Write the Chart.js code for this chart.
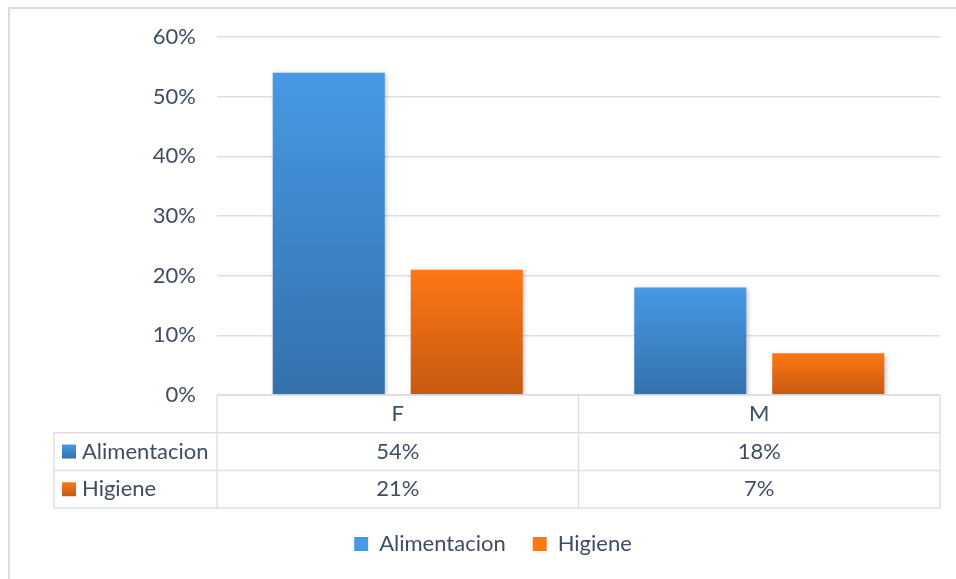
<!DOCTYPE html>
<html>
<head>
<meta charset="utf-8">
<script src="https://cdn.jsdelivr.net/npm/chart.js@4.4.1/dist/chart.umd.min.js"></script>
<style>
  html, body { margin: 0; padding: 0; background: #ffffff; }
  #wrap { position: relative; width: 956px; height: 579px; }
  canvas { display: block; }
</style>
</head>
<body>
<div id="wrap"><canvas id="chart" width="956" height="579"></canvas></div>
<script>
// Categories, series and tick labels
const categories = ['F', 'M'];
const seriesNames = ['Alimentacion', 'Higiene'];
const alimentacion = [0.54, 0.18];
const higiene = [0.21, 0.07];
const yTickLabels = ['0%', '10%', '20%', '30%', '40%', '50%', '60%'];

// Styling
const FONT = 'Lato, "Open Sans", sans-serif';
const TEXT = '#3F4D62';
const LINE = '#DCE0E6';
const GRADS = [
  { top: '#4699E4', bottom: '#3471AD' },
  { top: '#FF7614', bottom: '#C65A10' }
];

function barGradient(ctx, top, bottom, stops) {
  const g = ctx.createLinearGradient(0, top, 0, bottom);
  g.addColorStop(0, stops.top);
  g.addColorStop(1, stops.bottom);
  return g;
}

function barFill(seriesIndex) {
  return (context) => {
    const chart = context.chart;
    const y = chart.scales && chart.scales.y;
    if (!y || context.parsed == null || context.type !== 'data') {
      return GRADS[seriesIndex].top;
    }
    const top = y.getPixelForValue(context.parsed.y);
    const base = y.getPixelForValue(0);
    return barGradient(chart.ctx, top, base, GRADS[seriesIndex]);
  };
}

function pct(v) { return Math.round(v * 100) + '%'; }

// Outer frame of the chart object
const framePlugin = {
  id: 'frame',
  beforeDraw(chart) {
    const { ctx } = chart;
    ctx.save();
    ctx.strokeStyle = '#D9DEE4';
    ctx.lineWidth = 2;
    ctx.beginPath();
    ctx.moveTo(9, chart.height + 5);
    ctx.lineTo(9, 8);
    ctx.lineTo(chart.width + 5, 8);
    ctx.stroke();
    ctx.restore();
  }
};

// Soft drop shadow behind the bars
const shadowPlugin = {
  id: 'barShadow',
  beforeDatasetsDraw(chart) {
    const { ctx } = chart;
    ctx.save();
    ctx.shadowColor = 'rgba(0,0,0,0.28)';
    ctx.shadowBlur = 5;
    ctx.shadowOffsetX = 1.5;
    ctx.shadowOffsetY = 1.5;
  },
  afterDatasetsDraw(chart) {
    chart.ctx.restore();
  }
};

// Data table under the plot, aligned with the category scale
const tablePlugin = {
  id: 'dataTable',
  afterDraw(chart) {
    const { ctx, chartArea, scales: { x } } = chart;
    const series = [alimentacion, higiene];
    const n = categories.length;
    const colW = (chartArea.right - chartArea.left) / n;
    const rowH = 37.7;
    const top = chartArea.bottom;
    const bottom = top + rowH * (series.length + 1);
    const labelLeft = 54;

    ctx.save();
    ctx.strokeStyle = LINE;
    ctx.lineWidth = 1.5;
    ctx.beginPath();
    // horizontal rules
    ctx.moveTo(chartArea.left, top);
    ctx.lineTo(chartArea.right, top);
    for (let r = 1; r <= series.length; r++) {
      ctx.moveTo(labelLeft, top + rowH * r);
      ctx.lineTo(chartArea.right, top + rowH * r);
    }
    ctx.moveTo(labelLeft, bottom);
    ctx.lineTo(chartArea.right, bottom);
    // vertical rules
    ctx.moveTo(labelLeft, top + rowH);
    ctx.lineTo(labelLeft, bottom);
    for (let i = 0; i <= n; i++) {
      const px = i < n ? x.getPixelForValue(i) - colW / 2 : chartArea.right;
      ctx.moveTo(px, top);
      ctx.lineTo(px, bottom);
    }
    ctx.stroke();

    ctx.fillStyle = TEXT;
    ctx.font = '22px ' + FONT;
    ctx.textBaseline = 'middle';
    ctx.textAlign = 'center';
    categories.forEach((c, i) => {
      ctx.fillText(c, x.getPixelForValue(i), top + rowH / 2);
    });
    series.forEach((vals, r) => {
      const cy = top + rowH * (r + 1.5);
      vals.forEach((v, i) => {
        ctx.fillText(pct(v), x.getPixelForValue(i), cy);
      });
      // legend key + series name
      const bx = 62, bs = 14;
      ctx.fillStyle = barGradient(ctx, cy - bs / 2, cy + bs / 2, GRADS[r]);
      ctx.fillRect(bx, cy - bs / 2, bs, bs);
      ctx.fillStyle = TEXT;
      ctx.textAlign = 'left';
      ctx.fillText(seriesNames[r], 82, cy);
      ctx.textAlign = 'center';
    });
    ctx.restore();
  }
};

const data = {
  labels: categories,
  datasets: [
    { label: seriesNames[0], data: alimentacion, backgroundColor: barFill(0) },
    { label: seriesNames[1], data: higiene, backgroundColor: barFill(1) }
  ]
};

new Chart(document.getElementById('chart'), {
  type: 'bar',
  data,
  options: {
    responsive: false,
    animation: false,
    devicePixelRatio: 1,
    categoryPercentage: 0.7635,
    barPercentage: 0.8116,
    layout: { padding: { top: 37, right: 16, left: 46, bottom: 14 } },
    scales: {
      x: {
        ticks: { display: false },
        grid: { display: false },
        border: { display: false },
        afterFit(scale) { scale.height = 111; }
      },
      y: {
        min: 0,
        max: 0.6,
        ticks: {
          stepSize: 0.1,
          padding: 21,
          color: TEXT,
          font: { family: FONT, size: 22 },
          callback: (v, i) => yTickLabels[i]
        },
        grid: { color: LINE, lineWidth: 1.5, drawTicks: false },
        border: { display: false },
        afterFit(scale) { scale.width = 171; }
      }
    },
    plugins: {
      tooltip: { enabled: false },
      legend: {
        position: 'bottom',
        labels: {
          boxWidth: 14,
          boxHeight: 14,
          padding: 27,
          color: TEXT,
          font: { family: FONT, size: 22 },
          generateLabels: () => seriesNames.map((name, i) => ({
            text: name,
            fillStyle: GRADS[i].top,
            strokeStyle: GRADS[i].top,
            lineWidth: 0,
            datasetIndex: i,
            fontColor: TEXT
          }))
        }
      }
    }
  },
  plugins: [framePlugin, shadowPlugin, tablePlugin]
});
</script>
</body>
</html>
